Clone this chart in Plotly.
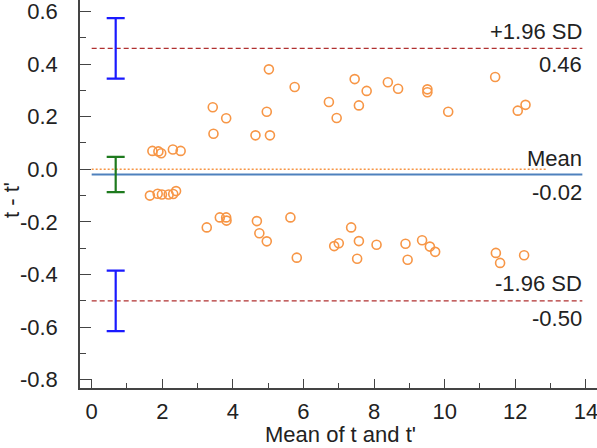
import plotly.graph_objects as go

# Data points: mean of t and t' (x) vs difference t - t' (y)
mean_tt = [5.02, 5.75, 3.43, 3.81, 4.96, 3.45, 4.64, 5.05, 1.72, 1.89, 1.97, 2.30, 2.52,
           6.72, 6.94, 7.45, 7.79, 7.57, 8.39, 8.68, 9.51, 9.51, 10.10, 11.43, 12.07, 12.29,
           1.65, 1.87, 1.99, 2.18, 2.31, 2.39, 3.26, 3.63, 3.81, 3.82, 4.68, 4.75, 4.96,
           5.63, 5.81, 6.87, 7.00, 7.35, 7.57, 7.52, 8.07, 8.89, 8.95, 9.36, 9.58, 9.73,
           11.45, 11.57, 12.25]
diff_tt = [0.380, 0.313, 0.236, 0.194, 0.219, 0.135, 0.129, 0.129, 0.070, 0.068, 0.061, 0.075, 0.070,
           0.256, 0.195, 0.343, 0.298, 0.243, 0.331, 0.306, 0.304, 0.293, 0.219, 0.351, 0.223, 0.245,
           -0.100, -0.093, -0.096, -0.096, -0.094, -0.083, -0.221, -0.183, -0.183, -0.195, -0.197, -0.243, -0.274,
           -0.183, -0.336, -0.292, -0.281, -0.221, -0.273, -0.340, -0.287, -0.283, -0.344, -0.270, -0.294, -0.314,
           -0.318, -0.356, -0.327]

# Agreement statistics
mean_diff = -0.02
upper_loa = 0.46
lower_loa = -0.50
loa_ci = 0.115
mean_ci = 0.067
line_x = [0, 13.9]
zero_x = [0, 12.9]
ci_x = 0.68

y_tickvals = [-0.8, -0.6, -0.4, -0.2, 0.0, 0.2, 0.4, 0.6]
y_ticktext = ["-0.8", "-0.6", "-0.4", "-0.2", "0.0", "0.2", "0.4", "0.6"]
x_tickvals = [0, 2, 4, 6, 8, 10, 12, 14]
x_ticktext = ["0", "2", "4", "6", "8", "10", "12", "14"]

FONT = "Liberation Sans, Arial, sans-serif"
TXT = "#222222"
FS = 22

fig = go.Figure()

# zero reference line (orange dotted)
fig.add_trace(go.Scatter(x=zero_x, y=[0, 0], mode="lines",
                         line=dict(color="#f79646", width=1.5, dash="2px,2px"),
                         hoverinfo="skip", showlegend=False))
# mean line
fig.add_trace(go.Scatter(x=line_x, y=[mean_diff, mean_diff], mode="lines",
                         line=dict(color="#4f81bd", width=2),
                         hoverinfo="skip", showlegend=False))
# limits of agreement
for v in (upper_loa, lower_loa):
    fig.add_trace(go.Scatter(x=line_x, y=[v, v], mode="lines",
                             line=dict(color="#b03030", width=1.3, dash="5px,3px"),
                             hoverinfo="skip", showlegend=False))

# CI error bars
for v, ci, col in ((upper_loa, loa_ci, "#1a1aff"), (lower_loa, loa_ci, "#1a1aff"),
                   (mean_diff, mean_ci, "#1e7a1e")):
    fig.add_trace(go.Scatter(x=[ci_x], y=[v], mode="markers",
                             marker=dict(size=1, color="rgba(0,0,0,0)"),
                             error_y=dict(type="data", array=[ci], visible=True,
                                          color=col, thickness=2.2, width=9),
                             hoverinfo="skip", showlegend=False))

# scatter points
fig.add_trace(go.Scatter(x=mean_tt, y=diff_tt, mode="markers",
                         marker=dict(symbol="circle-open", size=9,
                                     color="#f79646", line=dict(width=1.6, color="#f79646")),
                         showlegend=False))

# right-side labels
labels = [("+1.96 SD", upper_loa, 17), ("0.46", upper_loa, -16),
          ("Mean", mean_diff, 16), ("-0.02", mean_diff, -18),
          ("-1.96 SD", lower_loa, 17), ("-0.50", lower_loa, -18)]
for t, v, s in labels:
    fig.add_annotation(x=13.95, y=v, xref="x", yref="y", text=t, showarrow=False,
                       xanchor="right", yanchor="middle", yshift=s,
                       font=dict(family=FONT, size=FS, color=TXT))

W, H = 597, 448
L, B = 80, 60
pw, ph = W - L, H - B

# axis titles (placed in paper coordinates)
fig.add_annotation(x=(340 - L) / pw, y=(H - B - 434) / ph, xref="paper", yref="paper",
                   text="Mean of t and t'", showarrow=False, xanchor="center", yanchor="middle",
                   font=dict(family=FONT, size=FS, color=TXT))
fig.add_annotation(x=(12 - L) / pw, y=(H - B - 200) / ph, xref="paper", yref="paper",
                   text="t - t'", showarrow=False, textangle=-90,
                   xanchor="center", yanchor="middle",
                   font=dict(family=FONT, size=FS, color=TXT))

fig.update_layout(
    width=W, height=H,
    margin=dict(l=L, r=0, t=0, b=B, pad=0, autoexpand=False),
    plot_bgcolor="white", paper_bgcolor="white",
    font=dict(family=FONT, size=FS, color=TXT),
    xaxis=dict(range=[-0.331, 14.315], showgrid=False, zeroline=False, automargin=False,
               showline=True, linecolor="#444444", linewidth=1.5,
               ticks="inside", ticklen=9, tickwidth=1.2, tickcolor="#444444",
               tickvals=x_tickvals, ticktext=x_ticktext, ticklabeloverflow="allow",
               minor=dict(ticks="inside", ticklen=5, dtick=1, tickcolor="#444444", tickwidth=1.2),
               ticklabelstandoff=3),
    yaxis=dict(range=[-0.8316, 0.6437], showgrid=False, zeroline=False, automargin=False,
               showline=True, linecolor="#444444", linewidth=1.5,
               ticks="inside", ticklen=11, tickwidth=1.2, tickcolor="#444444",
               tickvals=y_tickvals, ticktext=y_ticktext, ticklabeloverflow="allow",
               minor=dict(ticks="inside", ticklen=6, dtick=0.1, tick0=0, tickcolor="#444444", tickwidth=1.2),
               ticklabelstandoff=16),
)

fig.write_html("out.html", config={"displayModeBar": False},
               post_script="document.body.style.margin='0';document.body.style.overflow='hidden';")
